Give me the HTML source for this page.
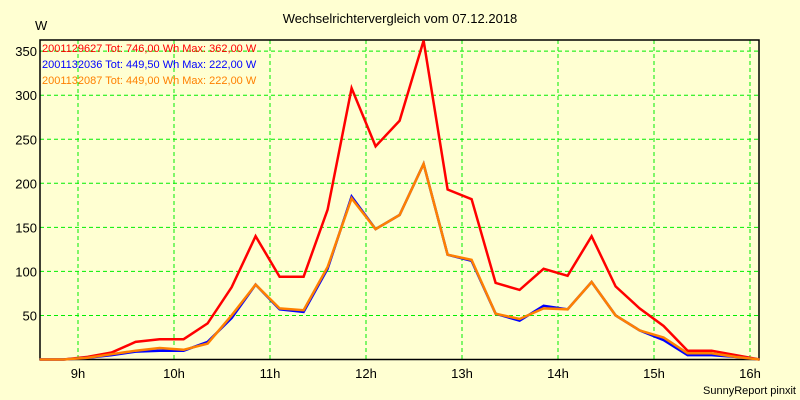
<!DOCTYPE html>
<html><head><meta charset="utf-8"><style>
html,body{margin:0;padding:0;background:#ffffd2;}
svg{display:block;font-family:"Liberation Sans",sans-serif;}
</style></head><body>
<svg id="chart" width="800" height="400" viewBox="0 0 800 400">
<rect x="0" y="0" width="800" height="400" fill="#ffffd2"/>
<text x="400" y="23" font-size="13" text-anchor="middle" fill="#000">Wechselrichtervergleich vom 07.12.2018</text>
<text x="35" y="30" font-size="13" fill="#000">W</text>
<text x="796" y="394" font-size="11" text-anchor="end" fill="#000">SunnyReport pinxit</text>
<g id="grid"></g>
<g id="axes"></g>
<g id="series"></g>
<g id="legend">
<text x="42" y="52" font-size="11" fill="#ff0000">2001129627 Tot: 746,00 Wh Max: 362,00 W</text>
<text x="42" y="68" font-size="11" fill="#0000ff">2001132036 Tot: 449,50 Wh Max: 222,00 W</text>
<text x="42" y="84" font-size="11" fill="#ff8000">2001132087 Tot: 449,00 Wh Max: 222,00 W</text>
</g>
</svg>
<script>
const times = [8.6,8.85,9.1,9.35,9.6,9.85,10.1,10.35,10.6,10.85,11.1,11.35,11.6,11.85,12.1,12.35,12.6,12.85,13.1,13.35,13.6,13.85,14.1,14.35,14.6,14.85,15.1,15.35,15.6,15.85,16.1];
const redValues = [0,0,3,8,20,23,23,41,82,140,94,94,170,308,242,271,362,193,182,87,79,103,95,140,83,58,38,10,10,5,0];
const blueValues = [0,0,2,5,9,10,10,20,47,85,57,54,103,185,148,164,222,119,112,52,44,61,57,88,50,33,22,5,5,3,0];
const orangeValues = [0,0,2,6,10,13,11,18,50,85,58,56,105,183,148,164,222,119,113,52,46,58,57,88,50,33,25,7,7,3,0];
const yTicks = [50,100,150,200,250,300,350];
const xTicks = [9,10,11,12,13,14,15,16];
const xTickLabels = ["9h","10h","11h","12h","13h","14h","15h","16h"];

const L=40,R=759,T=40,B=359.5;
const xs = h => 78 + (h-9)*96;
const ys = v => B - v*0.881;
const NS="http://www.w3.org/2000/svg";
function mk(tag, parent, attrs){const e=document.createElementNS(NS,tag);for(const k in attrs)e.setAttribute(k,attrs[k]);parent.appendChild(e);return e;}
const grid=document.getElementById('grid'), axes=document.getElementById('axes'), series=document.getElementById('series');
yTicks.forEach(v=>{
  const l=mk('line',grid,{x1:L,x2:R,y1:ys(v),y2:ys(v),stroke:'#00ee00','stroke-dasharray':'4,3','stroke-width':1});
  
  
  const t=mk('text',axes,{x:L-3,y:ys(v)+5,'font-size':13,'text-anchor':'end',fill:'#000'});
  t.textContent=v;
  
  
});
xTicks.forEach((h,i)=>{
  const l=mk('line',grid,{x1:xs(h),x2:xs(h),y1:T,y2:B,stroke:'#00ee00','stroke-dasharray':'4,3','stroke-width':1});
  
  
  const t=mk('text',axes,{x:xs(h),y:378,'font-size':13,'text-anchor':'middle',fill:'#000'});
  t.textContent=xTickLabels[i];
  
  
});
const frame=mk('rect',axes,{x:L,y:T,width:R-L,height:B-T,fill:'none',stroke:'#000','stroke-width':1.5});


function drawLine(vals,color,name){
  const pts=vals.map((v,i)=>xs(times[i]).toFixed(1)+','+ys(v).toFixed(1)).join(' ');
  const p=mk('polyline',series,{points:pts,fill:'none',stroke:color,'stroke-width':2.5,'stroke-linejoin':'miter'});
  
  
}
drawLine(redValues,'#ff0000','line-2001129627');
drawLine(blueValues,'#0000ff','line-2001132036');
drawLine(orangeValues,'#ff8000','line-2001132087');
</script>
</body></html>
